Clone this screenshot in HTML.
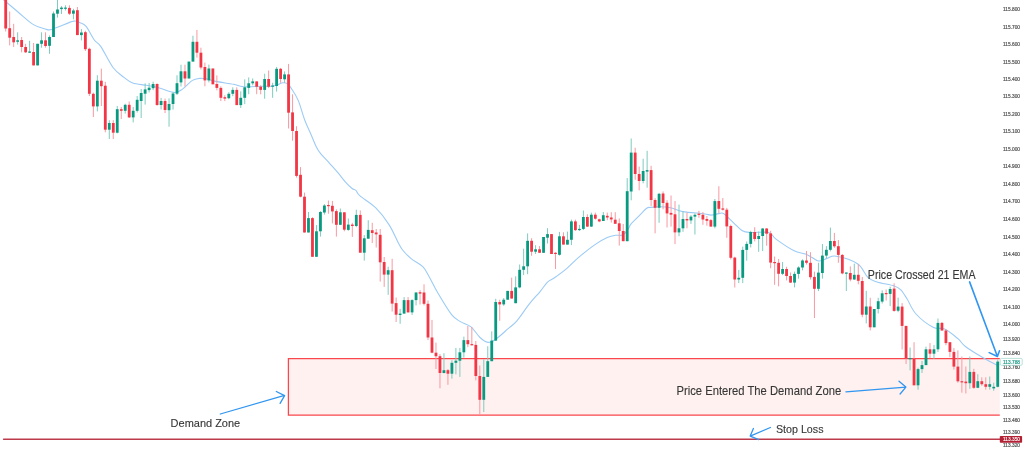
<!DOCTYPE html>
<html><head><meta charset="utf-8"><style>html,body{margin:0;padding:0;background:#fff;width:1024px;height:455px;overflow:hidden}svg{display:block}</style></head>
<body><svg width="1024" height="455" viewBox="0 0 1024 455" style="will-change:transform">
<rect width="1024" height="455" fill="#fff"/>
<rect x="288.4" y="358.7" width="711.4" height="56.4" fill="rgba(244,67,54,0.075)"/>
<path d="M999.8 358.7 H288.4 V415.1 H999.8" fill="none" stroke="#f9474c" stroke-width="1.25"/>
<path d="M-2.00 -4.90 C1.33 -2.08 12.10 7.08 18.00 12.00 C23.90 16.92 28.73 21.73 33.40 24.60 C38.07 27.47 43.37 28.32 46.00 29.20 C48.63 30.08 48.08 29.93 49.20 29.90 C50.32 29.87 50.90 29.62 52.70 29.00 C54.50 28.38 56.48 27.52 60.00 26.20 C63.52 24.88 70.47 21.67 73.80 21.10 C77.13 20.53 77.95 21.92 80.00 22.80 C82.05 23.68 83.72 23.53 86.10 26.40 C88.48 29.27 91.83 36.63 94.30 40.00 C96.77 43.37 97.78 42.02 100.90 46.60 C104.02 51.18 109.15 62.37 113.00 67.50 C116.85 72.63 120.72 74.82 124.00 77.40 C127.28 79.98 128.95 81.68 132.70 83.00 C136.45 84.32 142.18 84.52 146.50 85.30 C150.82 86.08 153.97 86.50 158.60 87.70 C163.23 88.90 170.27 92.30 174.30 92.50 C178.33 92.70 179.78 90.92 182.80 88.90 C185.82 86.88 189.53 82.15 192.40 80.40 C195.27 78.65 197.75 78.67 200.00 78.40 C202.25 78.13 203.27 78.30 205.90 78.80 C208.53 79.30 211.18 80.48 215.80 81.40 C220.42 82.32 229.00 83.42 233.60 84.30 C238.20 85.18 238.67 86.37 243.40 86.70 C248.13 87.03 256.97 86.42 262.00 86.30 C267.03 86.18 270.20 86.58 273.60 86.00 C277.00 85.42 280.07 83.18 282.40 82.80 C284.73 82.42 286.15 82.82 287.60 83.70 C289.05 84.58 289.33 85.32 291.10 88.10 C292.87 90.88 295.93 95.08 298.20 100.40 C300.47 105.72 302.60 114.40 304.70 120.00 C306.80 125.60 308.90 129.60 310.80 134.00 C312.70 138.40 314.58 143.28 316.10 146.40 C317.62 149.52 317.62 149.83 319.90 152.70 C322.18 155.57 326.80 160.27 329.80 163.60 C332.80 166.93 335.28 169.62 337.90 172.70 C340.52 175.78 343.13 179.47 345.50 182.10 C347.87 184.73 350.37 187.12 352.10 188.50 C353.83 189.88 354.58 189.17 355.90 190.40 C357.22 191.63 356.68 192.98 360.00 195.90 C363.32 198.82 370.97 203.12 375.80 207.90 C380.63 212.68 385.30 218.88 389.00 224.60 C392.70 230.32 395.73 237.97 398.00 242.20 C400.27 246.43 400.37 247.23 402.60 250.00 C404.83 252.77 408.03 256.02 411.40 258.80 C414.77 261.58 419.87 263.77 422.80 266.70 C425.73 269.63 426.48 272.02 429.00 276.40 C431.52 280.78 434.13 286.63 437.90 293.00 C441.67 299.37 447.85 309.83 451.60 314.60 C455.35 319.37 457.17 319.55 460.40 321.60 C463.63 323.65 467.73 324.25 471.00 326.90 C474.27 329.55 477.18 334.92 480.00 337.50 C482.82 340.08 485.27 342.12 487.90 342.40 C490.53 342.68 492.43 341.48 495.80 339.20 C499.17 336.92 504.58 331.77 508.10 328.70 C511.62 325.63 513.38 324.90 516.90 320.80 C520.42 316.70 525.37 308.93 529.20 304.10 C533.03 299.27 536.85 295.47 539.90 291.80 C542.95 288.13 545.07 284.45 547.50 282.10 C549.93 279.75 551.27 280.00 554.50 277.70 C557.73 275.40 562.78 271.77 566.90 268.30 C571.02 264.83 574.52 260.85 579.20 256.90 C583.88 252.95 590.32 247.82 595.00 244.60 C599.68 241.38 603.85 239.15 607.30 237.60 C610.75 236.05 613.28 235.68 615.70 235.30 C618.12 234.92 620.27 235.62 621.80 235.30 C623.33 234.98 623.80 234.52 624.90 233.40 C626.00 232.28 627.40 230.13 628.40 228.60 C629.40 227.07 629.33 226.10 630.90 224.20 C632.47 222.30 635.17 219.85 637.80 217.20 C640.43 214.55 644.57 209.93 646.70 208.30 C648.83 206.67 648.38 207.65 650.60 207.40 C652.82 207.15 656.68 206.73 660.00 206.80 C663.32 206.87 666.70 207.00 670.50 207.80 C674.30 208.60 677.23 210.62 682.80 211.60 C688.37 212.58 699.20 213.12 703.90 213.70 C708.60 214.28 708.32 215.15 711.00 215.10 C713.68 215.05 717.85 213.63 720.00 213.40 C722.15 213.17 721.63 212.13 723.90 213.70 C726.17 215.27 730.52 219.95 733.60 222.80 C736.68 225.65 739.48 229.18 742.40 230.80 C745.32 232.42 746.72 232.22 751.10 232.50 C755.48 232.78 764.55 231.40 768.70 232.50 C772.85 233.60 771.85 236.10 776.00 239.10 C780.15 242.10 788.33 247.87 793.60 250.50 C798.87 253.13 803.45 253.15 807.60 254.90 C811.75 256.65 815.27 260.42 818.50 261.00 C821.73 261.58 824.05 259.20 827.00 258.40 C829.95 257.60 831.12 255.32 836.20 256.20 C841.28 257.08 852.22 260.17 857.50 263.70 C862.78 267.23 864.63 274.35 867.90 277.40 C871.17 280.45 872.72 280.57 877.10 282.00 C881.48 283.43 890.25 284.68 894.20 286.00 C898.15 287.32 898.67 287.77 900.80 289.90 C902.93 292.03 904.47 294.78 907.00 298.80 C909.53 302.82 911.65 309.25 916.00 314.00 C920.35 318.75 928.33 324.78 933.10 327.30 C937.87 329.82 940.47 327.20 944.60 329.10 C948.73 331.00 954.43 335.80 957.90 338.70 C961.37 341.60 961.33 343.40 965.40 346.50 C969.47 349.60 977.17 354.27 982.30 357.30 C987.43 360.33 993.38 363.47 996.20 364.70 C999.02 365.93 998.70 364.70 999.20 364.70" fill="none" stroke="#9ccbf5" stroke-width="1.1"/>
<g><rect x="5.20" y="-5.00" width="1.0" height="36.50" fill="#f79aa2"/><rect x="9.18" y="11.50" width="1.0" height="33.90" fill="#f79aa2"/><rect x="13.17" y="23.80" width="1.0" height="23.20" fill="#f79aa2"/><rect x="17.15" y="32.30" width="1.0" height="12.30" fill="#7fcbbf"/><rect x="21.14" y="37.00" width="1.0" height="15.30" fill="#f79aa2"/><rect x="25.12" y="43.80" width="1.0" height="9.20" fill="#f79aa2"/><rect x="29.10" y="40.80" width="1.0" height="12.20" fill="#7fcbbf"/><rect x="33.09" y="43.00" width="1.0" height="22.40" fill="#f79aa2"/><rect x="37.07" y="43.80" width="1.0" height="21.60" fill="#7fcbbf"/><rect x="41.06" y="32.30" width="1.0" height="15.40" fill="#7fcbbf"/><rect x="45.04" y="32.30" width="1.0" height="15.40" fill="#f79aa2"/><rect x="49.02" y="35.40" width="1.0" height="18.40" fill="#7fcbbf"/><rect x="53.01" y="11.50" width="1.0" height="25.50" fill="#7fcbbf"/><rect x="56.99" y="0.00" width="1.0" height="17.60" fill="#7fcbbf"/><rect x="60.98" y="6.10" width="1.0" height="7.90" fill="#7fcbbf"/><rect x="64.96" y="5.30" width="1.0" height="5.20" fill="#7fcbbf"/><rect x="68.94" y="5.30" width="1.0" height="9.70" fill="#f79aa2"/><rect x="72.93" y="8.80" width="1.0" height="10.50" fill="#7fcbbf"/><rect x="76.91" y="7.00" width="1.0" height="28.10" fill="#f79aa2"/><rect x="80.90" y="29.00" width="1.0" height="11.40" fill="#7fcbbf"/><rect x="84.88" y="30.80" width="1.0" height="20.20" fill="#f79aa2"/><rect x="88.86" y="47.70" width="1.0" height="48.30" fill="#f79aa2"/><rect x="92.85" y="92.70" width="1.0" height="24.30" fill="#f79aa2"/><rect x="96.83" y="75.20" width="1.0" height="36.20" fill="#7fcbbf"/><rect x="100.82" y="68.60" width="1.0" height="37.40" fill="#f79aa2"/><rect x="104.80" y="81.80" width="1.0" height="50.50" fill="#f79aa2"/><rect x="108.78" y="120.20" width="1.0" height="18.80" fill="#7fcbbf"/><rect x="112.77" y="120.20" width="1.0" height="18.80" fill="#f79aa2"/><rect x="116.75" y="106.00" width="1.0" height="27.40" fill="#7fcbbf"/><rect x="120.74" y="107.00" width="1.0" height="12.00" fill="#f79aa2"/><rect x="124.72" y="103.70" width="1.0" height="9.90" fill="#7fcbbf"/><rect x="128.70" y="101.50" width="1.0" height="16.50" fill="#f79aa2"/><rect x="132.69" y="107.00" width="1.0" height="15.40" fill="#7fcbbf"/><rect x="136.67" y="96.00" width="1.0" height="16.50" fill="#7fcbbf"/><rect x="140.66" y="89.00" width="1.0" height="29.00" fill="#7fcbbf"/><rect x="144.64" y="83.30" width="1.0" height="21.30" fill="#7fcbbf"/><rect x="148.62" y="82.90" width="1.0" height="9.60" fill="#7fcbbf"/><rect x="152.61" y="81.70" width="1.0" height="8.40" fill="#7fcbbf"/><rect x="156.59" y="83.30" width="1.0" height="22.50" fill="#f79aa2"/><rect x="160.58" y="97.90" width="1.0" height="11.60" fill="#7fcbbf"/><rect x="164.56" y="98.60" width="1.0" height="14.40" fill="#f79aa2"/><rect x="168.54" y="98.40" width="1.0" height="28.30" fill="#7fcbbf"/><rect x="172.53" y="91.80" width="1.0" height="17.80" fill="#7fcbbf"/><rect x="176.51" y="75.30" width="1.0" height="19.70" fill="#7fcbbf"/><rect x="180.50" y="64.70" width="1.0" height="21.80" fill="#7fcbbf"/><rect x="184.48" y="64.70" width="1.0" height="21.80" fill="#f79aa2"/><rect x="188.46" y="61.60" width="1.0" height="16.90" fill="#7fcbbf"/><rect x="192.45" y="35.70" width="1.0" height="25.90" fill="#7fcbbf"/><rect x="196.43" y="30.00" width="1.0" height="27.60" fill="#f79aa2"/><rect x="200.42" y="47.70" width="1.0" height="21.80" fill="#f79aa2"/><rect x="204.40" y="62.60" width="1.0" height="23.70" fill="#f79aa2"/><rect x="208.38" y="64.60" width="1.0" height="17.80" fill="#7fcbbf"/><rect x="212.37" y="68.50" width="1.0" height="15.80" fill="#f79aa2"/><rect x="216.35" y="75.40" width="1.0" height="14.90" fill="#f79aa2"/><rect x="220.34" y="86.30" width="1.0" height="14.80" fill="#f79aa2"/><rect x="224.32" y="95.20" width="1.0" height="5.90" fill="#f79aa2"/><rect x="228.30" y="92.20" width="1.0" height="7.00" fill="#7fcbbf"/><rect x="232.29" y="87.30" width="1.0" height="8.90" fill="#7fcbbf"/><rect x="236.27" y="87.30" width="1.0" height="17.80" fill="#f79aa2"/><rect x="240.26" y="91.30" width="1.0" height="16.70" fill="#7fcbbf"/><rect x="244.24" y="79.40" width="1.0" height="24.70" fill="#7fcbbf"/><rect x="248.22" y="77.40" width="1.0" height="16.80" fill="#7fcbbf"/><rect x="252.21" y="78.40" width="1.0" height="6.90" fill="#7fcbbf"/><rect x="256.19" y="81.40" width="1.0" height="12.80" fill="#f79aa2"/><rect x="260.18" y="85.30" width="1.0" height="9.00" fill="#f79aa2"/><rect x="264.16" y="73.70" width="1.0" height="25.00" fill="#7fcbbf"/><rect x="268.14" y="70.50" width="1.0" height="17.60" fill="#f79aa2"/><rect x="272.13" y="82.80" width="1.0" height="15.00" fill="#7fcbbf"/><rect x="276.11" y="67.00" width="1.0" height="24.60" fill="#7fcbbf"/><rect x="280.10" y="67.90" width="1.0" height="14.90" fill="#f79aa2"/><rect x="284.08" y="71.40" width="1.0" height="11.40" fill="#7fcbbf"/><rect x="288.06" y="63.90" width="1.0" height="64.60" fill="#f79aa2"/><rect x="292.05" y="94.30" width="1.0" height="46.40" fill="#f79aa2"/><rect x="296.03" y="126.20" width="1.0" height="51.40" fill="#f79aa2"/><rect x="300.02" y="167.10" width="1.0" height="30.20" fill="#f79aa2"/><rect x="304.00" y="192.60" width="1.0" height="39.90" fill="#f79aa2"/><rect x="307.98" y="212.00" width="1.0" height="20.50" fill="#7fcbbf"/><rect x="311.97" y="217.20" width="1.0" height="39.60" fill="#f79aa2"/><rect x="315.95" y="225.10" width="1.0" height="31.70" fill="#7fcbbf"/><rect x="319.94" y="211.10" width="1.0" height="25.50" fill="#7fcbbf"/><rect x="323.92" y="204.10" width="1.0" height="10.50" fill="#7fcbbf"/><rect x="327.90" y="200.50" width="1.0" height="13.20" fill="#f79aa2"/><rect x="331.89" y="200.90" width="1.0" height="22.50" fill="#f79aa2"/><rect x="335.87" y="209.30" width="1.0" height="27.30" fill="#f79aa2"/><rect x="339.86" y="208.50" width="1.0" height="16.60" fill="#7fcbbf"/><rect x="343.84" y="212.30" width="1.0" height="19.00" fill="#f79aa2"/><rect x="347.82" y="218.50" width="1.0" height="12.30" fill="#7fcbbf"/><rect x="351.81" y="222.80" width="1.0" height="14.10" fill="#f79aa2"/><rect x="355.79" y="209.70" width="1.0" height="17.50" fill="#7fcbbf"/><rect x="359.78" y="210.50" width="1.0" height="42.20" fill="#f79aa2"/><rect x="363.76" y="235.10" width="1.0" height="25.50" fill="#7fcbbf"/><rect x="367.74" y="220.20" width="1.0" height="18.50" fill="#7fcbbf"/><rect x="371.73" y="222.80" width="1.0" height="20.20" fill="#f79aa2"/><rect x="375.71" y="229.00" width="1.0" height="18.50" fill="#f79aa2"/><rect x="379.70" y="229.00" width="1.0" height="52.60" fill="#f79aa2"/><rect x="383.68" y="257.00" width="1.0" height="29.90" fill="#f79aa2"/><rect x="387.66" y="266.70" width="1.0" height="28.10" fill="#7fcbbf"/><rect x="391.65" y="258.80" width="1.0" height="52.70" fill="#f79aa2"/><rect x="395.63" y="297.50" width="1.0" height="24.50" fill="#f79aa2"/><rect x="399.62" y="308.90" width="1.0" height="14.90" fill="#7fcbbf"/><rect x="403.60" y="297.10" width="1.0" height="16.50" fill="#7fcbbf"/><rect x="407.58" y="297.10" width="1.0" height="15.30" fill="#f79aa2"/><rect x="411.57" y="299.20" width="1.0" height="15.80" fill="#7fcbbf"/><rect x="415.55" y="292.20" width="1.0" height="13.20" fill="#7fcbbf"/><rect x="419.54" y="290.10" width="1.0" height="14.40" fill="#f79aa2"/><rect x="423.52" y="284.30" width="1.0" height="21.10" fill="#f79aa2"/><rect x="427.50" y="300.50" width="1.0" height="39.60" fill="#f79aa2"/><rect x="431.49" y="319.90" width="1.0" height="33.40" fill="#f79aa2"/><rect x="435.47" y="342.60" width="1.0" height="26.40" fill="#f79aa2"/><rect x="439.46" y="354.10" width="1.0" height="34.20" fill="#f79aa2"/><rect x="443.44" y="353.20" width="1.0" height="20.20" fill="#7fcbbf"/><rect x="447.42" y="369.00" width="1.0" height="15.80" fill="#f79aa2"/><rect x="451.41" y="360.20" width="1.0" height="18.50" fill="#7fcbbf"/><rect x="455.39" y="347.90" width="1.0" height="26.40" fill="#7fcbbf"/><rect x="459.38" y="347.90" width="1.0" height="29.00" fill="#7fcbbf"/><rect x="463.36" y="336.60" width="1.0" height="21.00" fill="#7fcbbf"/><rect x="467.34" y="326.00" width="1.0" height="21.10" fill="#f79aa2"/><rect x="471.33" y="326.90" width="1.0" height="18.50" fill="#f79aa2"/><rect x="475.31" y="341.00" width="1.0" height="39.40" fill="#f79aa2"/><rect x="479.30" y="365.50" width="1.0" height="49.20" fill="#f79aa2"/><rect x="483.28" y="359.30" width="1.0" height="52.80" fill="#7fcbbf"/><rect x="487.26" y="346.20" width="1.0" height="30.70" fill="#7fcbbf"/><rect x="491.25" y="331.30" width="1.0" height="29.90" fill="#7fcbbf"/><rect x="495.23" y="298.80" width="1.0" height="42.20" fill="#7fcbbf"/><rect x="499.22" y="299.70" width="1.0" height="21.10" fill="#f79aa2"/><rect x="503.20" y="298.00" width="1.0" height="7.80" fill="#7fcbbf"/><rect x="507.18" y="290.90" width="1.0" height="8.80" fill="#7fcbbf"/><rect x="511.17" y="277.70" width="1.0" height="21.10" fill="#f79aa2"/><rect x="515.15" y="276.30" width="1.0" height="26.90" fill="#7fcbbf"/><rect x="519.14" y="264.50" width="1.0" height="23.80" fill="#7fcbbf"/><rect x="523.12" y="248.70" width="1.0" height="26.40" fill="#7fcbbf"/><rect x="527.10" y="233.40" width="1.0" height="40.80" fill="#7fcbbf"/><rect x="531.09" y="238.20" width="1.0" height="17.60" fill="#f79aa2"/><rect x="535.07" y="245.20" width="1.0" height="8.80" fill="#7fcbbf"/><rect x="539.06" y="246.10" width="1.0" height="6.70" fill="#f79aa2"/><rect x="543.04" y="237.00" width="1.0" height="15.80" fill="#7fcbbf"/><rect x="547.02" y="228.20" width="1.0" height="15.30" fill="#7fcbbf"/><rect x="551.01" y="234.10" width="1.0" height="19.90" fill="#f79aa2"/><rect x="554.99" y="252.20" width="1.0" height="16.70" fill="#f79aa2"/><rect x="558.98" y="231.90" width="1.0" height="23.70" fill="#7fcbbf"/><rect x="562.96" y="232.30" width="1.0" height="12.30" fill="#f79aa2"/><rect x="566.94" y="231.60" width="1.0" height="13.00" fill="#7fcbbf"/><rect x="570.93" y="219.60" width="1.0" height="25.50" fill="#7fcbbf"/><rect x="574.91" y="219.60" width="1.0" height="11.40" fill="#f79aa2"/><rect x="578.90" y="224.90" width="1.0" height="6.10" fill="#7fcbbf"/><rect x="582.88" y="210.50" width="1.0" height="19.60" fill="#7fcbbf"/><rect x="586.86" y="214.30" width="1.0" height="12.70" fill="#f79aa2"/><rect x="590.85" y="212.60" width="1.0" height="14.40" fill="#7fcbbf"/><rect x="594.83" y="212.60" width="1.0" height="7.00" fill="#f79aa2"/><rect x="598.82" y="218.70" width="1.0" height="3.50" fill="#f79aa2"/><rect x="602.80" y="212.00" width="1.0" height="9.00" fill="#7fcbbf"/><rect x="606.78" y="212.60" width="1.0" height="7.60" fill="#f79aa2"/><rect x="610.77" y="212.20" width="1.0" height="10.30" fill="#f79aa2"/><rect x="614.75" y="212.20" width="1.0" height="11.60" fill="#f79aa2"/><rect x="618.74" y="218.40" width="1.0" height="27.20" fill="#f79aa2"/><rect x="622.72" y="224.00" width="1.0" height="17.20" fill="#f79aa2"/><rect x="626.70" y="178.10" width="1.0" height="63.10" fill="#7fcbbf"/><rect x="630.69" y="138.50" width="1.0" height="61.80" fill="#7fcbbf"/><rect x="634.67" y="147.70" width="1.0" height="32.10" fill="#f79aa2"/><rect x="638.66" y="166.60" width="1.0" height="23.80" fill="#f79aa2"/><rect x="642.64" y="158.70" width="1.0" height="24.60" fill="#7fcbbf"/><rect x="646.62" y="150.80" width="1.0" height="36.90" fill="#7fcbbf"/><rect x="650.61" y="165.80" width="1.0" height="40.20" fill="#f79aa2"/><rect x="654.59" y="198.20" width="1.0" height="35.10" fill="#f79aa2"/><rect x="658.58" y="192.90" width="1.0" height="29.90" fill="#7fcbbf"/><rect x="662.56" y="191.40" width="1.0" height="17.90" fill="#f79aa2"/><rect x="666.54" y="200.20" width="1.0" height="27.30" fill="#f79aa2"/><rect x="670.53" y="195.50" width="1.0" height="31.10" fill="#f79aa2"/><rect x="674.51" y="201.10" width="1.0" height="43.00" fill="#f79aa2"/><rect x="678.50" y="204.60" width="1.0" height="31.60" fill="#7fcbbf"/><rect x="682.48" y="211.30" width="1.0" height="20.50" fill="#7fcbbf"/><rect x="686.46" y="212.50" width="1.0" height="15.80" fill="#f79aa2"/><rect x="690.45" y="215.10" width="1.0" height="8.80" fill="#7fcbbf"/><rect x="694.43" y="213.40" width="1.0" height="21.10" fill="#7fcbbf"/><rect x="698.42" y="210.80" width="1.0" height="7.00" fill="#f79aa2"/><rect x="702.40" y="212.00" width="1.0" height="12.80" fill="#f79aa2"/><rect x="706.38" y="216.00" width="1.0" height="9.70" fill="#f79aa2"/><rect x="710.37" y="219.00" width="1.0" height="7.60" fill="#f79aa2"/><rect x="714.35" y="199.00" width="1.0" height="29.30" fill="#7fcbbf"/><rect x="718.34" y="186.20" width="1.0" height="27.20" fill="#f79aa2"/><rect x="722.32" y="198.00" width="1.0" height="12.50" fill="#f79aa2"/><rect x="726.30" y="207.90" width="1.0" height="29.90" fill="#f79aa2"/><rect x="730.29" y="224.60" width="1.0" height="34.90" fill="#f79aa2"/><rect x="734.27" y="256.70" width="1.0" height="30.80" fill="#f79aa2"/><rect x="738.26" y="269.90" width="1.0" height="13.20" fill="#7fcbbf"/><rect x="742.24" y="246.60" width="1.0" height="36.50" fill="#7fcbbf"/><rect x="746.22" y="241.50" width="1.0" height="19.20" fill="#7fcbbf"/><rect x="750.21" y="230.80" width="1.0" height="16.70" fill="#7fcbbf"/><rect x="754.19" y="227.20" width="1.0" height="14.10" fill="#f79aa2"/><rect x="758.18" y="231.60" width="1.0" height="20.20" fill="#7fcbbf"/><rect x="762.16" y="228.10" width="1.0" height="22.90" fill="#7fcbbf"/><rect x="766.14" y="228.10" width="1.0" height="17.60" fill="#f79aa2"/><rect x="770.13" y="230.80" width="1.0" height="37.50" fill="#f79aa2"/><rect x="774.11" y="256.50" width="1.0" height="28.30" fill="#f79aa2"/><rect x="778.10" y="259.00" width="1.0" height="27.30" fill="#f79aa2"/><rect x="782.08" y="262.00" width="1.0" height="13.10" fill="#7fcbbf"/><rect x="786.06" y="266.80" width="1.0" height="13.60" fill="#f79aa2"/><rect x="790.05" y="272.50" width="1.0" height="10.50" fill="#f79aa2"/><rect x="794.03" y="271.60" width="1.0" height="15.80" fill="#7fcbbf"/><rect x="798.02" y="266.30" width="1.0" height="12.30" fill="#7fcbbf"/><rect x="802.00" y="259.30" width="1.0" height="11.00" fill="#7fcbbf"/><rect x="805.98" y="251.00" width="1.0" height="13.50" fill="#f79aa2"/><rect x="809.97" y="252.20" width="1.0" height="27.30" fill="#f79aa2"/><rect x="813.95" y="271.60" width="1.0" height="46.40" fill="#f79aa2"/><rect x="817.94" y="262.80" width="1.0" height="28.30" fill="#7fcbbf"/><rect x="821.92" y="244.00" width="1.0" height="34.60" fill="#7fcbbf"/><rect x="825.90" y="246.10" width="1.0" height="12.30" fill="#7fcbbf"/><rect x="829.89" y="227.60" width="1.0" height="23.80" fill="#7fcbbf"/><rect x="833.87" y="232.90" width="1.0" height="14.90" fill="#f79aa2"/><rect x="837.86" y="240.00" width="1.0" height="22.80" fill="#f79aa2"/><rect x="841.84" y="254.10" width="1.0" height="20.20" fill="#f79aa2"/><rect x="845.82" y="272.50" width="1.0" height="18.50" fill="#7fcbbf"/><rect x="849.81" y="266.40" width="1.0" height="14.90" fill="#f79aa2"/><rect x="853.79" y="263.70" width="1.0" height="16.30" fill="#7fcbbf"/><rect x="857.78" y="264.20" width="1.0" height="20.10" fill="#f79aa2"/><rect x="861.76" y="276.90" width="1.0" height="40.40" fill="#f79aa2"/><rect x="865.74" y="290.80" width="1.0" height="32.60" fill="#7fcbbf"/><rect x="869.73" y="297.80" width="1.0" height="32.60" fill="#f79aa2"/><rect x="873.71" y="309.00" width="1.0" height="18.30" fill="#7fcbbf"/><rect x="877.70" y="297.80" width="1.0" height="15.70" fill="#7fcbbf"/><rect x="881.68" y="290.30" width="1.0" height="13.20" fill="#7fcbbf"/><rect x="885.66" y="289.50" width="1.0" height="11.00" fill="#f79aa2"/><rect x="889.65" y="286.60" width="1.0" height="19.50" fill="#7fcbbf"/><rect x="893.63" y="283.30" width="1.0" height="28.40" fill="#f79aa2"/><rect x="897.62" y="297.60" width="1.0" height="14.60" fill="#7fcbbf"/><rect x="901.60" y="303.10" width="1.0" height="46.40" fill="#f79aa2"/><rect x="905.58" y="325.90" width="1.0" height="38.10" fill="#f79aa2"/><rect x="909.57" y="347.50" width="1.0" height="22.90" fill="#7fcbbf"/><rect x="913.55" y="342.20" width="1.0" height="43.10" fill="#f79aa2"/><rect x="917.54" y="367.70" width="1.0" height="22.00" fill="#7fcbbf"/><rect x="921.52" y="361.00" width="1.0" height="12.00" fill="#7fcbbf"/><rect x="925.50" y="346.60" width="1.0" height="18.50" fill="#7fcbbf"/><rect x="929.49" y="343.10" width="1.0" height="15.00" fill="#f79aa2"/><rect x="933.47" y="344.90" width="1.0" height="14.00" fill="#7fcbbf"/><rect x="937.46" y="318.50" width="1.0" height="33.40" fill="#7fcbbf"/><rect x="941.44" y="322.00" width="1.0" height="8.80" fill="#f79aa2"/><rect x="945.42" y="329.10" width="1.0" height="16.10" fill="#f79aa2"/><rect x="949.41" y="342.20" width="1.0" height="15.00" fill="#f79aa2"/><rect x="953.39" y="348.10" width="1.0" height="21.50" fill="#f79aa2"/><rect x="957.38" y="350.40" width="1.0" height="32.30" fill="#f79aa2"/><rect x="961.36" y="356.50" width="1.0" height="36.20" fill="#f79aa2"/><rect x="965.34" y="366.50" width="1.0" height="27.00" fill="#f79aa2"/><rect x="969.33" y="356.50" width="1.0" height="32.30" fill="#7fcbbf"/><rect x="973.31" y="368.80" width="1.0" height="20.00" fill="#f79aa2"/><rect x="977.30" y="374.20" width="1.0" height="13.90" fill="#7fcbbf"/><rect x="981.28" y="377.30" width="1.0" height="8.50" fill="#f79aa2"/><rect x="985.26" y="377.30" width="1.0" height="12.30" fill="#f79aa2"/><rect x="989.25" y="376.50" width="1.0" height="13.10" fill="#7fcbbf"/><rect x="993.23" y="382.70" width="1.0" height="8.10" fill="#7fcbbf"/><rect x="997.22" y="359.60" width="1.0" height="27.70" fill="#7fcbbf"/></g>
<g><rect x="4.30" y="0.00" width="2.8" height="28.50" fill="#F23645"/><rect x="8.28" y="28.20" width="2.8" height="9.50" fill="#F23645"/><rect x="12.27" y="37.00" width="2.8" height="5.30" fill="#F23645"/><rect x="16.25" y="40.30" width="2.8" height="1.50" fill="#089981"/><rect x="20.24" y="40.00" width="2.8" height="7.00" fill="#F23645"/><rect x="24.22" y="47.00" width="2.8" height="5.30" fill="#F23645"/><rect x="28.20" y="51.50" width="2.8" height="1.20" fill="#089981"/><rect x="32.19" y="52.00" width="2.8" height="13.40" fill="#F23645"/><rect x="36.17" y="43.80" width="2.8" height="21.60" fill="#089981"/><rect x="40.16" y="40.30" width="2.8" height="3.50" fill="#089981"/><rect x="44.14" y="40.30" width="2.8" height="5.70" fill="#F23645"/><rect x="48.12" y="37.00" width="2.8" height="8.80" fill="#089981"/><rect x="52.11" y="13.50" width="2.8" height="23.50" fill="#089981"/><rect x="56.09" y="9.50" width="2.8" height="4.20" fill="#089981"/><rect x="60.08" y="7.60" width="2.8" height="1.50" fill="#089981"/><rect x="64.06" y="7.60" width="2.8" height="1.20" fill="#089981"/><rect x="68.04" y="7.90" width="2.8" height="5.80" fill="#F23645"/><rect x="72.03" y="10.50" width="2.8" height="3.20" fill="#089981"/><rect x="76.01" y="10.20" width="2.8" height="24.90" fill="#F23645"/><rect x="80.00" y="32.50" width="2.8" height="2.60" fill="#089981"/><rect x="83.98" y="32.20" width="2.8" height="17.00" fill="#F23645"/><rect x="87.96" y="48.80" width="2.8" height="45.00" fill="#F23645"/><rect x="91.95" y="93.80" width="2.8" height="12.60" fill="#F23645"/><rect x="95.93" y="80.70" width="2.8" height="25.70" fill="#089981"/><rect x="99.92" y="80.70" width="2.8" height="5.50" fill="#F23645"/><rect x="103.90" y="85.70" width="2.8" height="44.00" fill="#F23645"/><rect x="107.88" y="123.00" width="2.8" height="6.70" fill="#089981"/><rect x="111.87" y="123.00" width="2.8" height="9.70" fill="#F23645"/><rect x="115.85" y="109.20" width="2.8" height="23.50" fill="#089981"/><rect x="119.84" y="109.20" width="2.8" height="1.60" fill="#F23645"/><rect x="123.82" y="104.80" width="2.8" height="6.00" fill="#089981"/><rect x="127.80" y="104.80" width="2.8" height="12.60" fill="#F23645"/><rect x="131.79" y="110.80" width="2.8" height="6.60" fill="#089981"/><rect x="135.77" y="99.80" width="2.8" height="11.00" fill="#089981"/><rect x="139.76" y="93.00" width="2.8" height="8.00" fill="#089981"/><rect x="143.74" y="89.40" width="2.8" height="4.30" fill="#089981"/><rect x="147.72" y="87.70" width="2.8" height="2.40" fill="#089981"/><rect x="151.71" y="84.00" width="2.8" height="4.20" fill="#089981"/><rect x="155.69" y="84.00" width="2.8" height="21.00" fill="#F23645"/><rect x="159.68" y="101.00" width="2.8" height="4.00" fill="#089981"/><rect x="163.66" y="101.00" width="2.8" height="9.00" fill="#F23645"/><rect x="167.64" y="104.00" width="2.8" height="6.20" fill="#089981"/><rect x="171.63" y="93.50" width="2.8" height="10.50" fill="#089981"/><rect x="175.61" y="83.20" width="2.8" height="10.50" fill="#089981"/><rect x="179.60" y="71.30" width="2.8" height="11.10" fill="#089981"/><rect x="183.58" y="71.30" width="2.8" height="7.20" fill="#F23645"/><rect x="187.56" y="61.60" width="2.8" height="16.90" fill="#089981"/><rect x="191.55" y="41.80" width="2.8" height="19.80" fill="#089981"/><rect x="195.53" y="41.80" width="2.8" height="10.90" fill="#F23645"/><rect x="199.52" y="52.70" width="2.8" height="14.80" fill="#F23645"/><rect x="203.50" y="67.00" width="2.8" height="13.40" fill="#F23645"/><rect x="207.48" y="68.50" width="2.8" height="11.90" fill="#089981"/><rect x="211.47" y="68.50" width="2.8" height="15.80" fill="#F23645"/><rect x="215.45" y="84.00" width="2.8" height="3.90" fill="#F23645"/><rect x="219.44" y="87.90" width="2.8" height="9.90" fill="#F23645"/><rect x="223.42" y="97.20" width="2.8" height="1.40" fill="#F23645"/><rect x="227.40" y="93.80" width="2.8" height="4.40" fill="#089981"/><rect x="231.39" y="89.90" width="2.8" height="3.90" fill="#089981"/><rect x="235.37" y="89.90" width="2.8" height="15.20" fill="#F23645"/><rect x="239.36" y="97.80" width="2.8" height="7.30" fill="#089981"/><rect x="243.34" y="87.30" width="2.8" height="10.50" fill="#089981"/><rect x="247.32" y="83.30" width="2.8" height="4.60" fill="#089981"/><rect x="251.31" y="81.40" width="2.8" height="1.90" fill="#089981"/><rect x="255.29" y="81.40" width="2.8" height="5.30" fill="#F23645"/><rect x="259.28" y="86.70" width="2.8" height="3.20" fill="#F23645"/><rect x="263.26" y="79.00" width="2.8" height="10.90" fill="#089981"/><rect x="267.24" y="79.00" width="2.8" height="7.70" fill="#F23645"/><rect x="271.23" y="85.50" width="2.8" height="1.20" fill="#089981"/><rect x="275.21" y="68.80" width="2.8" height="17.20" fill="#089981"/><rect x="279.20" y="68.80" width="2.8" height="10.20" fill="#F23645"/><rect x="283.18" y="74.40" width="2.8" height="4.90" fill="#089981"/><rect x="287.16" y="74.40" width="2.8" height="38.30" fill="#F23645"/><rect x="291.15" y="112.40" width="2.8" height="18.60" fill="#F23645"/><rect x="295.13" y="131.00" width="2.8" height="44.90" fill="#F23645"/><rect x="299.12" y="174.80" width="2.8" height="21.90" fill="#F23645"/><rect x="303.10" y="196.70" width="2.8" height="35.80" fill="#F23645"/><rect x="307.08" y="218.10" width="2.8" height="14.40" fill="#089981"/><rect x="311.07" y="218.10" width="2.8" height="38.70" fill="#F23645"/><rect x="315.05" y="231.30" width="2.8" height="25.50" fill="#089981"/><rect x="319.04" y="212.00" width="2.8" height="19.30" fill="#089981"/><rect x="323.02" y="205.50" width="2.8" height="7.00" fill="#089981"/><rect x="327.00" y="205.00" width="2.8" height="1.20" fill="#F23645"/><rect x="330.99" y="205.80" width="2.8" height="5.60" fill="#F23645"/><rect x="334.97" y="211.10" width="2.8" height="13.70" fill="#F23645"/><rect x="338.96" y="212.30" width="2.8" height="12.50" fill="#089981"/><rect x="342.94" y="212.30" width="2.8" height="17.40" fill="#F23645"/><rect x="346.92" y="224.60" width="2.8" height="5.30" fill="#089981"/><rect x="350.91" y="224.60" width="2.8" height="1.40" fill="#F23645"/><rect x="354.89" y="214.90" width="2.8" height="11.10" fill="#089981"/><rect x="358.88" y="214.90" width="2.8" height="37.80" fill="#F23645"/><rect x="362.86" y="238.30" width="2.8" height="14.40" fill="#089981"/><rect x="366.84" y="229.90" width="2.8" height="8.80" fill="#089981"/><rect x="370.83" y="230.20" width="2.8" height="2.80" fill="#F23645"/><rect x="374.81" y="232.50" width="2.8" height="1.80" fill="#F23645"/><rect x="378.80" y="234.80" width="2.8" height="27.50" fill="#F23645"/><rect x="382.78" y="262.00" width="2.8" height="12.60" fill="#F23645"/><rect x="386.76" y="270.20" width="2.8" height="4.40" fill="#089981"/><rect x="390.75" y="270.20" width="2.8" height="33.40" fill="#F23645"/><rect x="394.73" y="303.10" width="2.8" height="11.60" fill="#F23645"/><rect x="398.72" y="313.60" width="2.8" height="1.40" fill="#089981"/><rect x="402.70" y="300.10" width="2.8" height="13.50" fill="#089981"/><rect x="406.68" y="300.10" width="2.8" height="12.30" fill="#F23645"/><rect x="410.67" y="300.10" width="2.8" height="12.30" fill="#089981"/><rect x="414.65" y="292.50" width="2.8" height="7.60" fill="#089981"/><rect x="418.64" y="292.20" width="2.8" height="1.40" fill="#F23645"/><rect x="422.62" y="292.50" width="2.8" height="11.30" fill="#F23645"/><rect x="426.60" y="303.80" width="2.8" height="33.70" fill="#F23645"/><rect x="430.59" y="337.50" width="2.8" height="15.20" fill="#F23645"/><rect x="434.57" y="352.70" width="2.8" height="3.50" fill="#F23645"/><rect x="438.56" y="356.20" width="2.8" height="16.80" fill="#F23645"/><rect x="442.54" y="370.20" width="2.8" height="2.80" fill="#089981"/><rect x="446.52" y="370.20" width="2.8" height="3.50" fill="#F23645"/><rect x="450.51" y="362.80" width="2.8" height="10.90" fill="#089981"/><rect x="454.49" y="360.70" width="2.8" height="2.10" fill="#089981"/><rect x="458.48" y="352.30" width="2.8" height="8.40" fill="#089981"/><rect x="462.46" y="340.10" width="2.8" height="12.20" fill="#089981"/><rect x="466.44" y="340.10" width="2.8" height="4.10" fill="#F23645"/><rect x="470.43" y="344.10" width="2.8" height="1.20" fill="#F23645"/><rect x="474.41" y="344.90" width="2.8" height="31.10" fill="#F23645"/><rect x="478.40" y="376.00" width="2.8" height="23.80" fill="#F23645"/><rect x="482.38" y="376.90" width="2.8" height="22.90" fill="#089981"/><rect x="486.36" y="361.20" width="2.8" height="15.70" fill="#089981"/><rect x="490.35" y="340.60" width="2.8" height="20.60" fill="#089981"/><rect x="494.33" y="302.00" width="2.8" height="38.60" fill="#089981"/><rect x="498.32" y="302.00" width="2.8" height="2.40" fill="#F23645"/><rect x="502.30" y="299.70" width="2.8" height="4.70" fill="#089981"/><rect x="506.28" y="290.90" width="2.8" height="8.80" fill="#089981"/><rect x="510.27" y="290.90" width="2.8" height="7.60" fill="#F23645"/><rect x="514.25" y="287.40" width="2.8" height="15.80" fill="#089981"/><rect x="518.24" y="269.80" width="2.8" height="17.60" fill="#089981"/><rect x="522.22" y="266.30" width="2.8" height="3.50" fill="#089981"/><rect x="526.20" y="240.80" width="2.8" height="25.50" fill="#089981"/><rect x="530.19" y="240.80" width="2.8" height="10.90" fill="#F23645"/><rect x="534.17" y="249.30" width="2.8" height="2.40" fill="#089981"/><rect x="538.16" y="249.30" width="2.8" height="3.50" fill="#F23645"/><rect x="542.14" y="237.00" width="2.8" height="15.80" fill="#089981"/><rect x="546.12" y="234.10" width="2.8" height="3.60" fill="#089981"/><rect x="550.11" y="234.10" width="2.8" height="19.90" fill="#F23645"/><rect x="554.09" y="252.80" width="2.8" height="1.20" fill="#F23645"/><rect x="558.08" y="236.30" width="2.8" height="18.50" fill="#089981"/><rect x="562.06" y="236.30" width="2.8" height="8.30" fill="#F23645"/><rect x="566.04" y="239.80" width="2.8" height="4.80" fill="#089981"/><rect x="570.03" y="221.40" width="2.8" height="18.40" fill="#089981"/><rect x="574.01" y="221.40" width="2.8" height="8.70" fill="#F23645"/><rect x="578.00" y="228.90" width="2.8" height="1.20" fill="#089981"/><rect x="581.98" y="217.00" width="2.8" height="11.90" fill="#089981"/><rect x="585.96" y="217.00" width="2.8" height="9.60" fill="#F23645"/><rect x="589.95" y="214.70" width="2.8" height="11.90" fill="#089981"/><rect x="593.93" y="214.70" width="2.8" height="4.00" fill="#F23645"/><rect x="597.92" y="219.30" width="2.8" height="2.10" fill="#F23645"/><rect x="601.90" y="215.20" width="2.8" height="5.80" fill="#089981"/><rect x="605.88" y="215.80" width="2.8" height="1.70" fill="#F23645"/><rect x="609.87" y="217.50" width="2.8" height="1.90" fill="#F23645"/><rect x="613.85" y="219.70" width="2.8" height="4.10" fill="#F23645"/><rect x="617.84" y="223.30" width="2.8" height="7.70" fill="#F23645"/><rect x="621.82" y="231.00" width="2.8" height="10.20" fill="#F23645"/><rect x="625.80" y="191.20" width="2.8" height="50.00" fill="#089981"/><rect x="629.79" y="152.60" width="2.8" height="38.90" fill="#089981"/><rect x="633.77" y="152.60" width="2.8" height="21.40" fill="#F23645"/><rect x="637.76" y="174.00" width="2.8" height="7.00" fill="#F23645"/><rect x="641.74" y="171.00" width="2.8" height="10.00" fill="#089981"/><rect x="645.72" y="170.10" width="2.8" height="1.50" fill="#089981"/><rect x="649.71" y="170.10" width="2.8" height="29.90" fill="#F23645"/><rect x="653.69" y="200.00" width="2.8" height="7.80" fill="#F23645"/><rect x="657.68" y="193.80" width="2.8" height="14.00" fill="#089981"/><rect x="661.66" y="193.50" width="2.8" height="9.50" fill="#F23645"/><rect x="665.64" y="202.80" width="2.8" height="10.60" fill="#F23645"/><rect x="669.63" y="212.90" width="2.8" height="1.70" fill="#F23645"/><rect x="673.61" y="214.30" width="2.8" height="18.10" fill="#F23645"/><rect x="677.60" y="228.30" width="2.8" height="4.10" fill="#089981"/><rect x="681.58" y="219.00" width="2.8" height="9.30" fill="#089981"/><rect x="685.56" y="219.00" width="2.8" height="1.40" fill="#F23645"/><rect x="689.55" y="216.60" width="2.8" height="3.80" fill="#089981"/><rect x="693.53" y="214.80" width="2.8" height="1.80" fill="#089981"/><rect x="697.52" y="213.70" width="2.8" height="1.20" fill="#F23645"/><rect x="701.50" y="214.80" width="2.8" height="4.70" fill="#F23645"/><rect x="705.48" y="219.00" width="2.8" height="1.80" fill="#F23645"/><rect x="709.47" y="220.10" width="2.8" height="6.50" fill="#F23645"/><rect x="713.45" y="201.10" width="2.8" height="25.50" fill="#089981"/><rect x="717.44" y="201.00" width="2.8" height="7.80" fill="#F23645"/><rect x="721.42" y="208.40" width="2.8" height="1.30" fill="#F23645"/><rect x="725.40" y="209.70" width="2.8" height="16.70" fill="#F23645"/><rect x="729.39" y="226.00" width="2.8" height="31.80" fill="#F23645"/><rect x="733.37" y="257.60" width="2.8" height="21.90" fill="#F23645"/><rect x="737.36" y="277.80" width="2.8" height="1.70" fill="#089981"/><rect x="741.34" y="249.90" width="2.8" height="27.90" fill="#089981"/><rect x="745.32" y="243.90" width="2.8" height="6.00" fill="#089981"/><rect x="749.31" y="232.00" width="2.8" height="11.90" fill="#089981"/><rect x="753.29" y="232.00" width="2.8" height="7.00" fill="#F23645"/><rect x="757.28" y="236.00" width="2.8" height="3.00" fill="#089981"/><rect x="761.26" y="228.50" width="2.8" height="7.50" fill="#089981"/><rect x="765.24" y="228.50" width="2.8" height="5.20" fill="#F23645"/><rect x="769.23" y="233.40" width="2.8" height="29.20" fill="#F23645"/><rect x="773.21" y="262.00" width="2.8" height="1.20" fill="#F23645"/><rect x="777.20" y="262.80" width="2.8" height="11.00" fill="#F23645"/><rect x="781.18" y="269.00" width="2.8" height="4.80" fill="#089981"/><rect x="785.16" y="269.00" width="2.8" height="7.00" fill="#F23645"/><rect x="789.15" y="276.00" width="2.8" height="6.60" fill="#F23645"/><rect x="793.13" y="273.90" width="2.8" height="8.70" fill="#089981"/><rect x="797.12" y="267.50" width="2.8" height="6.40" fill="#089981"/><rect x="801.10" y="260.50" width="2.8" height="7.00" fill="#089981"/><rect x="805.08" y="260.50" width="2.8" height="2.30" fill="#F23645"/><rect x="809.07" y="262.80" width="2.8" height="14.40" fill="#F23645"/><rect x="813.05" y="276.90" width="2.8" height="11.90" fill="#F23645"/><rect x="817.04" y="272.60" width="2.8" height="16.20" fill="#089981"/><rect x="821.02" y="255.60" width="2.8" height="17.40" fill="#089981"/><rect x="825.00" y="249.80" width="2.8" height="5.80" fill="#089981"/><rect x="828.99" y="241.00" width="2.8" height="8.80" fill="#089981"/><rect x="832.97" y="241.00" width="2.8" height="5.30" fill="#F23645"/><rect x="836.96" y="246.20" width="2.8" height="8.70" fill="#F23645"/><rect x="840.94" y="254.90" width="2.8" height="18.50" fill="#F23645"/><rect x="844.92" y="272.50" width="2.8" height="1.20" fill="#089981"/><rect x="848.91" y="273.00" width="2.8" height="6.50" fill="#F23645"/><rect x="852.89" y="274.80" width="2.8" height="4.70" fill="#089981"/><rect x="856.88" y="274.80" width="2.8" height="6.00" fill="#F23645"/><rect x="860.86" y="281.00" width="2.8" height="33.70" fill="#F23645"/><rect x="864.84" y="306.50" width="2.8" height="8.20" fill="#089981"/><rect x="868.83" y="306.50" width="2.8" height="20.80" fill="#F23645"/><rect x="872.81" y="309.00" width="2.8" height="18.30" fill="#089981"/><rect x="876.80" y="301.20" width="2.8" height="7.80" fill="#089981"/><rect x="880.78" y="293.30" width="2.8" height="8.30" fill="#089981"/><rect x="884.76" y="293.00" width="2.8" height="1.20" fill="#F23645"/><rect x="888.75" y="289.00" width="2.8" height="4.90" fill="#089981"/><rect x="892.73" y="288.60" width="2.8" height="22.30" fill="#F23645"/><rect x="896.72" y="306.60" width="2.8" height="4.10" fill="#089981"/><rect x="900.70" y="306.60" width="2.8" height="19.30" fill="#F23645"/><rect x="904.68" y="325.90" width="2.8" height="32.70" fill="#F23645"/><rect x="908.67" y="358.00" width="2.8" height="1.30" fill="#089981"/><rect x="912.65" y="358.60" width="2.8" height="26.70" fill="#F23645"/><rect x="916.64" y="369.10" width="2.8" height="16.20" fill="#089981"/><rect x="920.62" y="365.10" width="2.8" height="4.00" fill="#089981"/><rect x="924.60" y="349.30" width="2.8" height="15.80" fill="#089981"/><rect x="928.59" y="349.30" width="2.8" height="4.40" fill="#F23645"/><rect x="932.57" y="349.30" width="2.8" height="4.40" fill="#089981"/><rect x="936.56" y="322.90" width="2.8" height="26.40" fill="#089981"/><rect x="940.54" y="322.90" width="2.8" height="7.60" fill="#F23645"/><rect x="944.52" y="330.50" width="2.8" height="12.60" fill="#F23645"/><rect x="948.51" y="342.20" width="2.8" height="9.70" fill="#F23645"/><rect x="952.49" y="351.90" width="2.8" height="14.70" fill="#F23645"/><rect x="956.48" y="366.60" width="2.8" height="14.70" fill="#F23645"/><rect x="960.46" y="381.20" width="2.8" height="1.20" fill="#F23645"/><rect x="964.44" y="381.60" width="2.8" height="1.60" fill="#F23645"/><rect x="968.43" y="371.90" width="2.8" height="11.30" fill="#089981"/><rect x="972.41" y="371.90" width="2.8" height="15.90" fill="#F23645"/><rect x="976.40" y="381.20" width="2.8" height="6.60" fill="#089981"/><rect x="980.38" y="381.20" width="2.8" height="3.00" fill="#F23645"/><rect x="984.36" y="384.20" width="2.8" height="2.60" fill="#F23645"/><rect x="988.35" y="384.20" width="2.8" height="2.60" fill="#089981"/><rect x="992.33" y="386.80" width="2.8" height="1.60" fill="#089981"/><rect x="996.32" y="361.60" width="2.8" height="25.20" fill="#089981"/></g>
<line x1="3.6" y1="439.2" x2="1000" y2="439.2" stroke="#bd3a4a" stroke-width="1.4" stroke-linecap="round"/>
<g font-family="Liberation Sans, sans-serif" font-size="48" fill="#555" stroke="#555" stroke-width="2"><g transform="translate(1003 11.30) scale(0.1)"><text>115.800</text></g><g transform="translate(1003 28.73) scale(0.1)"><text>115.700</text></g><g transform="translate(1003 46.15) scale(0.1)"><text>115.600</text></g><g transform="translate(1003 63.58) scale(0.1)"><text>115.500</text></g><g transform="translate(1003 81.00) scale(0.1)"><text>115.400</text></g><g transform="translate(1003 98.42) scale(0.1)"><text>115.300</text></g><g transform="translate(1003 115.85) scale(0.1)"><text>115.200</text></g><g transform="translate(1003 133.28) scale(0.1)"><text>115.100</text></g><g transform="translate(1003 150.70) scale(0.1)"><text>115.000</text></g><g transform="translate(1003 168.27) scale(0.1)"><text>114.900</text></g><g transform="translate(1003 185.84) scale(0.1)"><text>114.800</text></g><g transform="translate(1003 203.41) scale(0.1)"><text>114.700</text></g><g transform="translate(1003 220.98) scale(0.1)"><text>114.600</text></g><g transform="translate(1003 238.55) scale(0.1)"><text>114.500</text></g><g transform="translate(1003 256.12) scale(0.1)"><text>114.400</text></g><g transform="translate(1003 273.69) scale(0.1)"><text>114.300</text></g><g transform="translate(1003 291.26) scale(0.1)"><text>114.200</text></g><g transform="translate(1003 308.83) scale(0.1)"><text>114.100</text></g><g transform="translate(1003 326.40) scale(0.1)"><text>114.000</text></g><g transform="translate(1003 340.60) scale(0.1)"><text>113.920</text></g><g transform="translate(1003 354.90) scale(0.1)"><text>113.840</text></g><g transform="translate(1003 369.20) scale(0.1)"><text>113.760</text></g><g transform="translate(1003 383.00) scale(0.1)"><text>113.680</text></g><g transform="translate(1003 397.20) scale(0.1)"><text>113.600</text></g><g transform="translate(1003 409.30) scale(0.1)"><text>113.530</text></g><g transform="translate(1003 422.30) scale(0.1)"><text>113.460</text></g><g transform="translate(1003 434.20) scale(0.1)"><text>113.390</text></g><g transform="translate(1003 447.10) scale(0.1)"><text>113.320</text></g></g>
<rect x="1000.2" y="358.4" width="22" height="6.9" fill="#fff" stroke="#9ad6ca" stroke-width="0.7" rx="1.2"/>
<g transform="translate(1003 363.7) scale(0.1)"><text font-family="Liberation Sans, sans-serif" font-size="48" fill="#26a08c" stroke="#26a08c" stroke-width="2">113.788</text></g>
<rect x="999.8" y="435.9" width="22.3" height="6.8" fill="#b22234" rx="0.8"/>
<g transform="translate(1003 440.8) scale(0.1)"><text font-family="Liberation Sans, sans-serif" font-size="48" fill="#fff" stroke="#fff" stroke-width="1">113.350</text></g>
<g font-family="Liberation Sans, sans-serif" font-size="11.6" fill="#363636" stroke="#363636" stroke-width="0.12" lengthAdjust="spacingAndGlyphs" style="will-change:transform">
<text x="170.6" y="427.1" textLength="69.6" lengthAdjust="spacingAndGlyphs">Demand Zone</text>
<text x="775.9" y="433.2" textLength="47.6" lengthAdjust="spacingAndGlyphs">Stop Loss</text>
<text x="676.4" y="394.7" font-size="12.1" textLength="164.8" lengthAdjust="spacingAndGlyphs">Price Entered The Demand Zone</text>
<text x="867.8" y="278.9" font-size="12.1" textLength="107.8" lengthAdjust="spacingAndGlyphs">Price Crossed 21 EMA</text>
</g>
<g stroke="#3196f0" stroke-width="1.3" fill="none" stroke-linecap="round" stroke-linejoin="round">
<path d="M220.3 414 L284.5 395.4 M276.3 391.5 L284.6 395.6 L280.1 403.4"/>
<path d="M770.4 427.5 L750.2 436.1 M753.4 428.5 L750.2 436.1 L758.7 439.6"/>
<path d="M845.9 391.8 L905.9 387.1 M899 381.2 L905.9 387.1 L900.1 394"/>
<path d="M969.6 281.9 L997.4 356.5 M989.2 352.6 L997.4 356.5 L999.5 350.8" stroke-width="1.6"/>
</g>
</svg></body></html>
